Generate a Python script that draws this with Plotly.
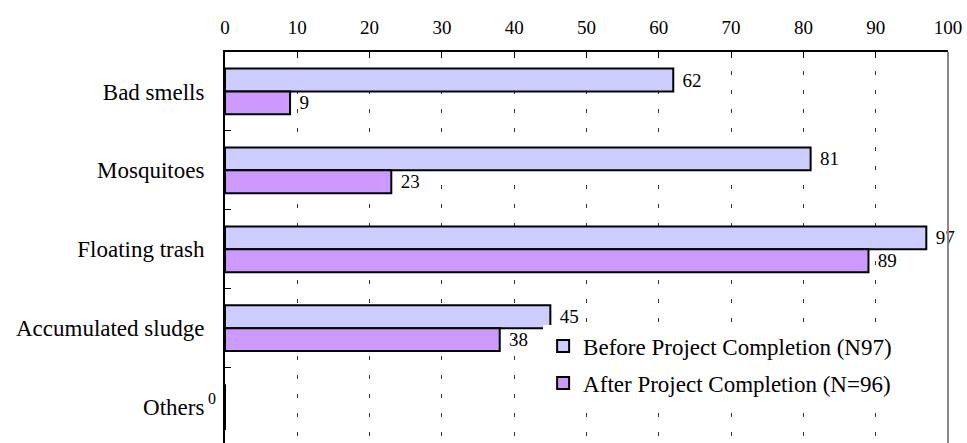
import plotly.graph_objects as go

categories = ["Bad smells", "Mosquitoes", "Floating trash", "Accumulated sludge", "Others"]
before = [62, 81, 97, 45, 0]
after = [9, 23, 89, 38, 0]
before_name = "Before Project Completion (N97)"
after_name = "After Project Completion (N=96)"
x_ticks = list(range(0, 101, 10))

FONT = "Liberation Serif"
PAD = "\u2004"

fig = go.Figure()
fig.add_trace(go.Bar(
    y=categories, x=before, orientation="h", name=before_name, legendgroup="a",
    marker=dict(color="#CCCCFF", line=dict(color="black", width=2)),
    text=[PAD + str(v) if v else "" for v in before], textposition="outside",
    textfont=dict(family=FONT, size=19, color="black"), cliponaxis=False,
))
fig.add_trace(go.Bar(
    y=categories, x=after, orientation="h", name=after_name, legendgroup="b",
    marker=dict(color="#CC99FF", line=dict(color="black", width=2)),
    text=[PAD + str(v) if v else "" for v in after], textposition="outside",
    textfont=dict(family=FONT, size=19, color="black"), cliponaxis=False,
))

# zero-valued label for 'Others'
for c, v in zip(categories, before):
    if v == 0:
        fig.add_annotation(x=0, y=c, text=str(v), showarrow=False, xanchor="right",
                           yanchor="middle", xshift=-7, yshift=9,
                           font=dict(family=FONT, size=16, color="black"))

fig.update_layout(
    width=967, height=443,
    margin=dict(l=225, r=19, t=52, b=0),
    paper_bgcolor="white", plot_bgcolor="white",
    barmode="group", bargap=0.42, bargroupgap=0,
    font=dict(family=FONT, size=23, color="black"),
    showlegend=True,
    legend=dict(x=0.44, y=0.303, xanchor="left", yanchor="top",
                bgcolor="white", font=dict(family=FONT, size=23, color="black"),
                tracegroupgap=4, itemwidth=30, traceorder="grouped"),
    xaxis=dict(side="top", range=[0, 100], tickvals=x_ticks,
               showgrid=True, gridcolor="#333333", gridwidth=1, griddash="4px,15px",
               showline=True, linecolor="black", linewidth=2,
               ticks="inside", ticklen=6, tickcolor="black", tickwidth=1,
               ticklabelstandoff=8, zeroline=False,
               tickfont=dict(family=FONT, size=19, color="black")),
    yaxis=dict(type="category", categoryorder="array", categoryarray=categories,
               range=[4.455, -0.5], tickson="boundaries",
               ticks="inside", ticklen=6, tickcolor="black", tickwidth=1,
               showline=True, linecolor="black", linewidth=2, showgrid=False,
               ticklabelstandoff=14,
               tickfont=dict(family=FONT, size=23, color="black")),
)
fig.add_shape(type="line", xref="paper", yref="paper", x0=1, x1=1, y0=0, y1=1,
              line=dict(color="#888888", width=2))

fig.write_html("out.html")
